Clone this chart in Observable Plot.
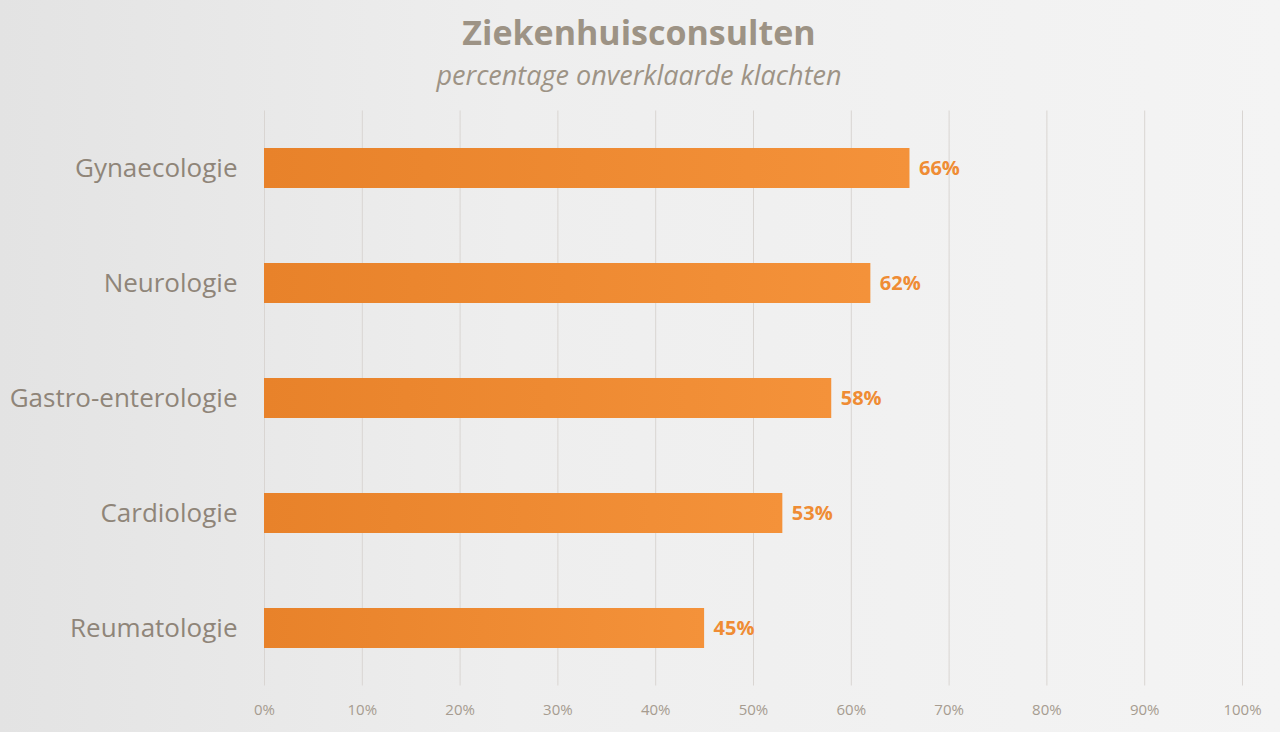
<!DOCTYPE html>
<html>
<head>
<meta charset="utf-8">
<script src="https://cdn.jsdelivr.net/npm/d3@7"></script>
<script src="https://cdn.jsdelivr.net/npm/@observablehq/plot@0.6"></script>
<style>
  html, body { margin: 0; padding: 0; }
  body {
    width: 1280px; height: 732px; overflow: hidden;
    background: linear-gradient(to right, #e3e3e3 0%, #eeeeee 40%, #f4f4f4 100%);
    font-family: "Open Sans", Lato, sans-serif;
  }
  #title { position: absolute; left: 0; width: 1278px; top: 8px; text-align: center; line-height: 48px;
    font-size: 34px; font-weight: bold; color: #9d9385; }
  #subtitle { position: absolute; left: 0; width: 1278px; top: 56px; text-align: center; line-height: 38px;
    font-size: 27px; font-style: italic; color: #9d9385; }
  #chart { position: absolute; left: 0; top: 100px; }
</style>
</head>
<body>
<div id="title">Ziekenhuisconsulten</div>
<div id="subtitle">percentage onverklaarde klachten</div>
<div id="chart"></div>
<script>
const categories = ["Gynaecologie", "Neurologie", "Gastro-enterologie", "Cardiologie", "Reumatologie"];
const values = [66, 62, 58, 53, 45];
const xTicks = [0, 10, 20, 30, 40, 50, 60, 70, 80, 90, 100];

const data = categories.map((c, i) => ({category: c, value: values[i]}));

const plot = Plot.plot({
  width: 1280,
  height: 632,
  marginTop: 10.5,
  marginBottom: 46.5,
  marginLeft: 264,
  marginRight: 38,
  style: {background: "transparent", fontFamily: "'Open Sans', Lato, sans-serif"},
  x: {domain: [0, 100], ticks: xTicks, tickFormat: d => d + "%", label: null},
  y: {domain: categories, paddingInner: 0.652, paddingOuter: 0.326, label: null},
  marks: [
    Plot.gridX(xTicks, {stroke: "#d9d5d2", strokeOpacity: 1, strokeWidth: 1}),
    Plot.axisX(xTicks, {tickSize: 0, tickPadding: 18, fontSize: 15, fill: "#a69c90", tickFormat: d => d + "%", label: null}),
    Plot.axisY({tickSize: 0, tickPadding: 27, fontSize: 26, fill: "#8f8579", label: null}),
    Plot.barX(data, {x: "value", y: "category", fill: "url(#barGrad)"}),
    Plot.text(data, {x: "value", y: "category", text: d => d.value + "%", textAnchor: "start", dx: 9,
      fill: "#ef8c34", fontSize: 20, fontWeight: "bold"})
  ]
});

const svg = d3.select(plot);
const defs = svg.insert("defs", ":first-child");
const g = defs.append("linearGradient").attr("id", "barGrad").attr("x1", "0").attr("x2", "1").attr("y1", "0").attr("y2", "0");
g.append("stop").attr("offset", "0%").attr("stop-color", "#e8822a");
g.append("stop").attr("offset", "100%").attr("stop-color", "#f4923a");

document.getElementById("chart").appendChild(plot);
</script>
</body>
</html>
